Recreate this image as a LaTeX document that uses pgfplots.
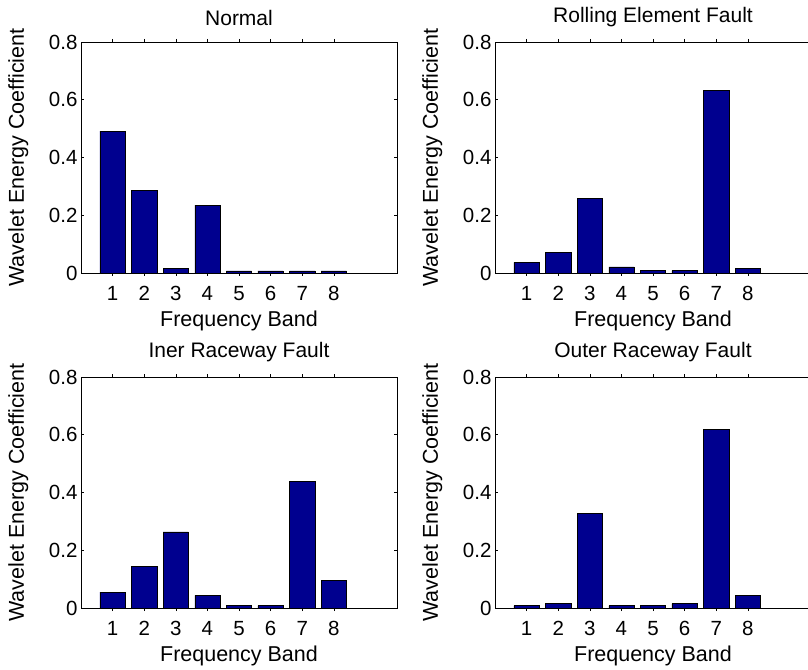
\documentclass[border=0pt]{standalone}
\usepackage{pgfplots}
\pgfplotsset{compat=1.18}
\usepackage{fontspec}
\setmainfont{Liberation Sans}
\definecolor{barblue}{rgb}{0,0,0.5625}
\pgfplotsset{
  panel/.style={
    scale only axis, width=316pt, height=231pt, anchor=south west,
    xmin=0, xmax=10, ymin=0, ymax=0.8,
    xtick={1,2,3,4,5,6,7,8}, xticklabels={1,2,3,4,5,6,7,8},
    ytick={0,0.2,0.4,0.6,0.8}, yticklabels={0,0.2,0.4,0.6,0.8},
    tick align=inside, major tick length=3pt,
    axis line style={black, line width=0.6pt},
    every tick/.style={black, line width=0.6pt},
    ticklabel style={font=\fontsize{20.5}{24}\selectfont},
    xticklabel style={yshift=-7pt},
    label style={font=\fontsize{21.5}{25}\selectfont},
    title style={font=\fontsize{21}{25}\selectfont, at={(axis description cs:0.5,1.08)}, anchor=center},
    xlabel={Frequency Band}, ylabel={Wavelet Energy Coefficient},
    xlabel style={at={(axis description cs:0.5,-0.208)}, anchor=center},
    ylabel style={at={(axis description cs:-0.198,0.5)}, anchor=center},
    ybar, bar width=0.8, bar shift=0pt,
  }
}
\begin{document}
\begin{tikzpicture}
\begin{axis}[panel, at={(81pt,396pt)}, title={Normal}]
\addplot[fill=barblue, draw=black, line width=0.5pt] coordinates {(1,0.491) (2,0.287) (3,0.015) (4,0.235) (5,0.007) (6,0.007) (7,0.007) (8,0.007)};
\end{axis}
\begin{axis}[panel, at={(495pt,396pt)}, title={Rolling Element Fault}]
\addplot[fill=barblue, draw=black, line width=0.5pt] coordinates {(1,0.037) (2,0.071) (3,0.259) (4,0.021) (5,0.008) (6,0.008) (7,0.632) (8,0.015)};
\end{axis}
\begin{axis}[panel, at={(81pt,61pt)}, title={Iner Raceway Fault}]
\addplot[fill=barblue, draw=black, line width=0.5pt] coordinates {(1,0.055) (2,0.143) (3,0.264) (4,0.044) (5,0.008) (6,0.008) (7,0.439) (8,0.096)};
\end{axis}
\begin{axis}[panel, at={(495pt,61pt)}, title={Outer Raceway Fault}]
\addplot[fill=barblue, draw=black, line width=0.5pt] coordinates {(1,0.008) (2,0.015) (3,0.329) (4,0.008) (5,0.008) (6,0.015) (7,0.619) (8,0.044)};
\end{axis}
\pgfresetboundingbox
\path[use as bounding box] (0pt,0pt) rectangle (808pt,669pt);
\end{tikzpicture}
\end{document}
